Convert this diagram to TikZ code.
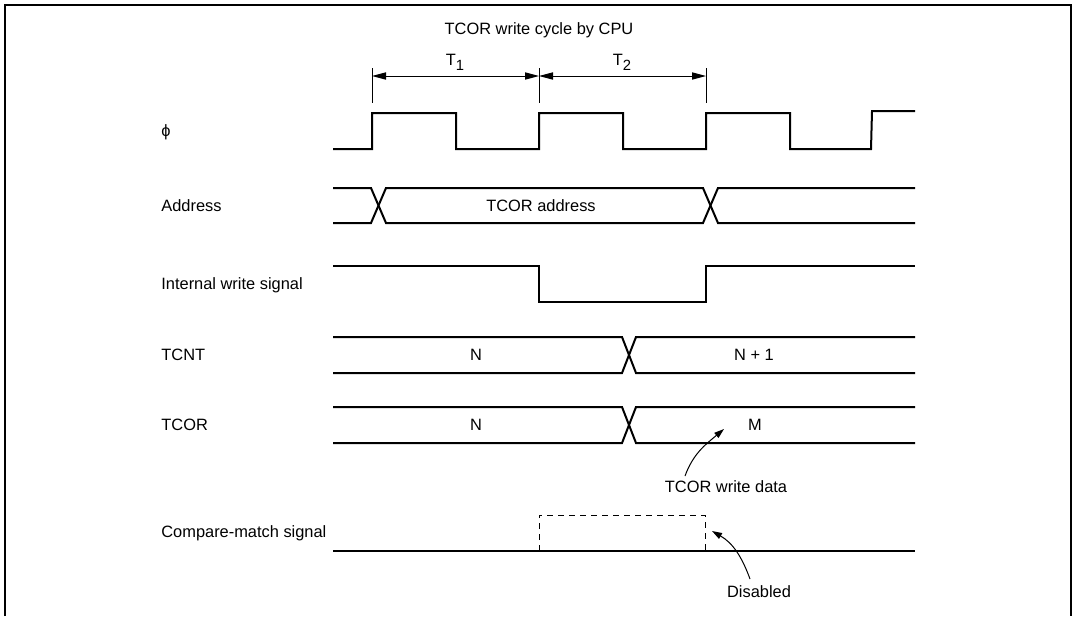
\documentclass[tikz,border=0pt]{standalone}
\usepackage{fontspec}
\setmainfont{Liberation Sans}
\usepackage{tikz}
\usetikzlibrary{arrows.meta}
\tikzset{
  frame-line/.style={line width=1pt},
  wave/.style={line width=1pt,line join=miter},
  wave-off/.style={line width=0.5pt,dash pattern=on 3pt off 2.5pt},
  tick-line/.style={line width=0.5pt},
  dim-arrow/.style={{Triangle[length=7pt,width=3.6pt]}-{Triangle[length=7pt,width=3.6pt]},line width=0.5pt},
  note-arrow/.style={-{Triangle[length=5pt,width=3.2pt]},line width=0.5pt},
  sig-label/.style={anchor=west,inner sep=0pt},
  bus-text/.style={inner sep=0pt},
}
\newcommand{\tsub}[1]{\raisebox{-0.3em}{\fontsize{7.4}{8}\selectfont #1}}

\begin{document}
\begin{tikzpicture}[x=0.5pt,y=-0.5pt,font=\fontsize{8.2}{9.8}\selectfont]
  \useasboundingbox (0,0) rectangle (1075,616);
  \draw[frame-line] (5,616) -- (5,5) -- (1071,5) -- (1071,616);
  % write cycle T1/T2
  \node[bus-text] (ttl) at (539,30) {TCOR write cycle by CPU};
  \foreach \x in {372,539,706} \draw[tick-line] (\x,68) -- (\x,103);
  \coordinate (k1) at (372,76);
  \coordinate (k2) at (539,76);
  \coordinate (k3) at (706,76);
  \draw[dim-arrow] (k1) -- (k2);
  \draw[dim-arrow] (k2) -- (k3);
  \node[bus-text] (t1) at (455,62) {T\tsub{1}};
  \node[bus-text] (t2) at (622,62) {T\tsub{2}};
  % signal names
  \node[sig-label] (l-phi) at (161,132) {ϕ};
  \node[sig-label] (l-adr) at (161,206) {Address};
  \node[sig-label] (l-wr)  at (161,285) {Internal write signal};
  \node[sig-label] (l-cnt) at (161,355) {TCNT};
  \node[sig-label] (l-cor) at (161,425) {TCOR};
  \node[sig-label] (l-cmp) at (161,533) {Compare-match signal};
  % phi clock
  \draw[wave] (333,149) -- (372,149) -- (372,113) -- (456,113) -- (456,149)
    -- (539,149) -- (539,113) -- (623,113) -- (623,149) -- (706,149)
    -- (706,113) -- (790,113) -- (790,149) -- (871,149) -- (872,111) -- (915,111);
  % address bus
  \draw[wave] (333,188) -- (371,188) -- (386,223) -- (703,223) -- (718,188) -- (915,188);
  \draw[wave] (333,223) -- (371,223) -- (386,188) -- (703,188) -- (718,223) -- (915,223);
  \node[bus-text] (adr) at (541,206) {TCOR address};
  % internal write
  \draw[wave] (333,266) -- (539,266) -- (539,302) -- (706,302) -- (706,266) -- (915,266);
  % TCNT
  \draw[wave] (333,337) -- (622,337) -- (636,373) -- (915,373);
  \draw[wave] (333,373) -- (622,373) -- (636,337) -- (915,337);
  \node[bus-text] (cnt-a) at (476,355) {N};
  \node[bus-text] (cnt-b) at (754,355) {N + 1};
  % TCOR
  \draw[wave] (333,407) -- (622,407) -- (636,443) -- (915,443);
  \draw[wave] (333,443) -- (622,443) -- (636,407) -- (915,407);
  \node[bus-text] (cor-a) at (476,425) {N};
  \node[bus-text] (cor-b) at (755,425) {M};
  \node[bus-text] (wd) at (726,487) {TCOR write data};
  \coordinate (wd-from) at (685,476);
  \coordinate (wd-tip) at (724,429);
  \draw[note-arrow] (wd-from) to[out=70,in=220] (wd-tip);
  % compare match
  \draw[wave] (333,551) -- (915,551);
  \draw[wave-off] (539,551) -- (539,515) -- (705,515) -- (705,551);
  \node[bus-text] (dis) at (759,592) {Disabled};
  \coordinate (dis-from) at (750,579);
  \coordinate (dis-tip) at (712,531);
  \draw[note-arrow] (dis-from) to[out=110,in=-30] (dis-tip);
\end{tikzpicture}
\end{document}
